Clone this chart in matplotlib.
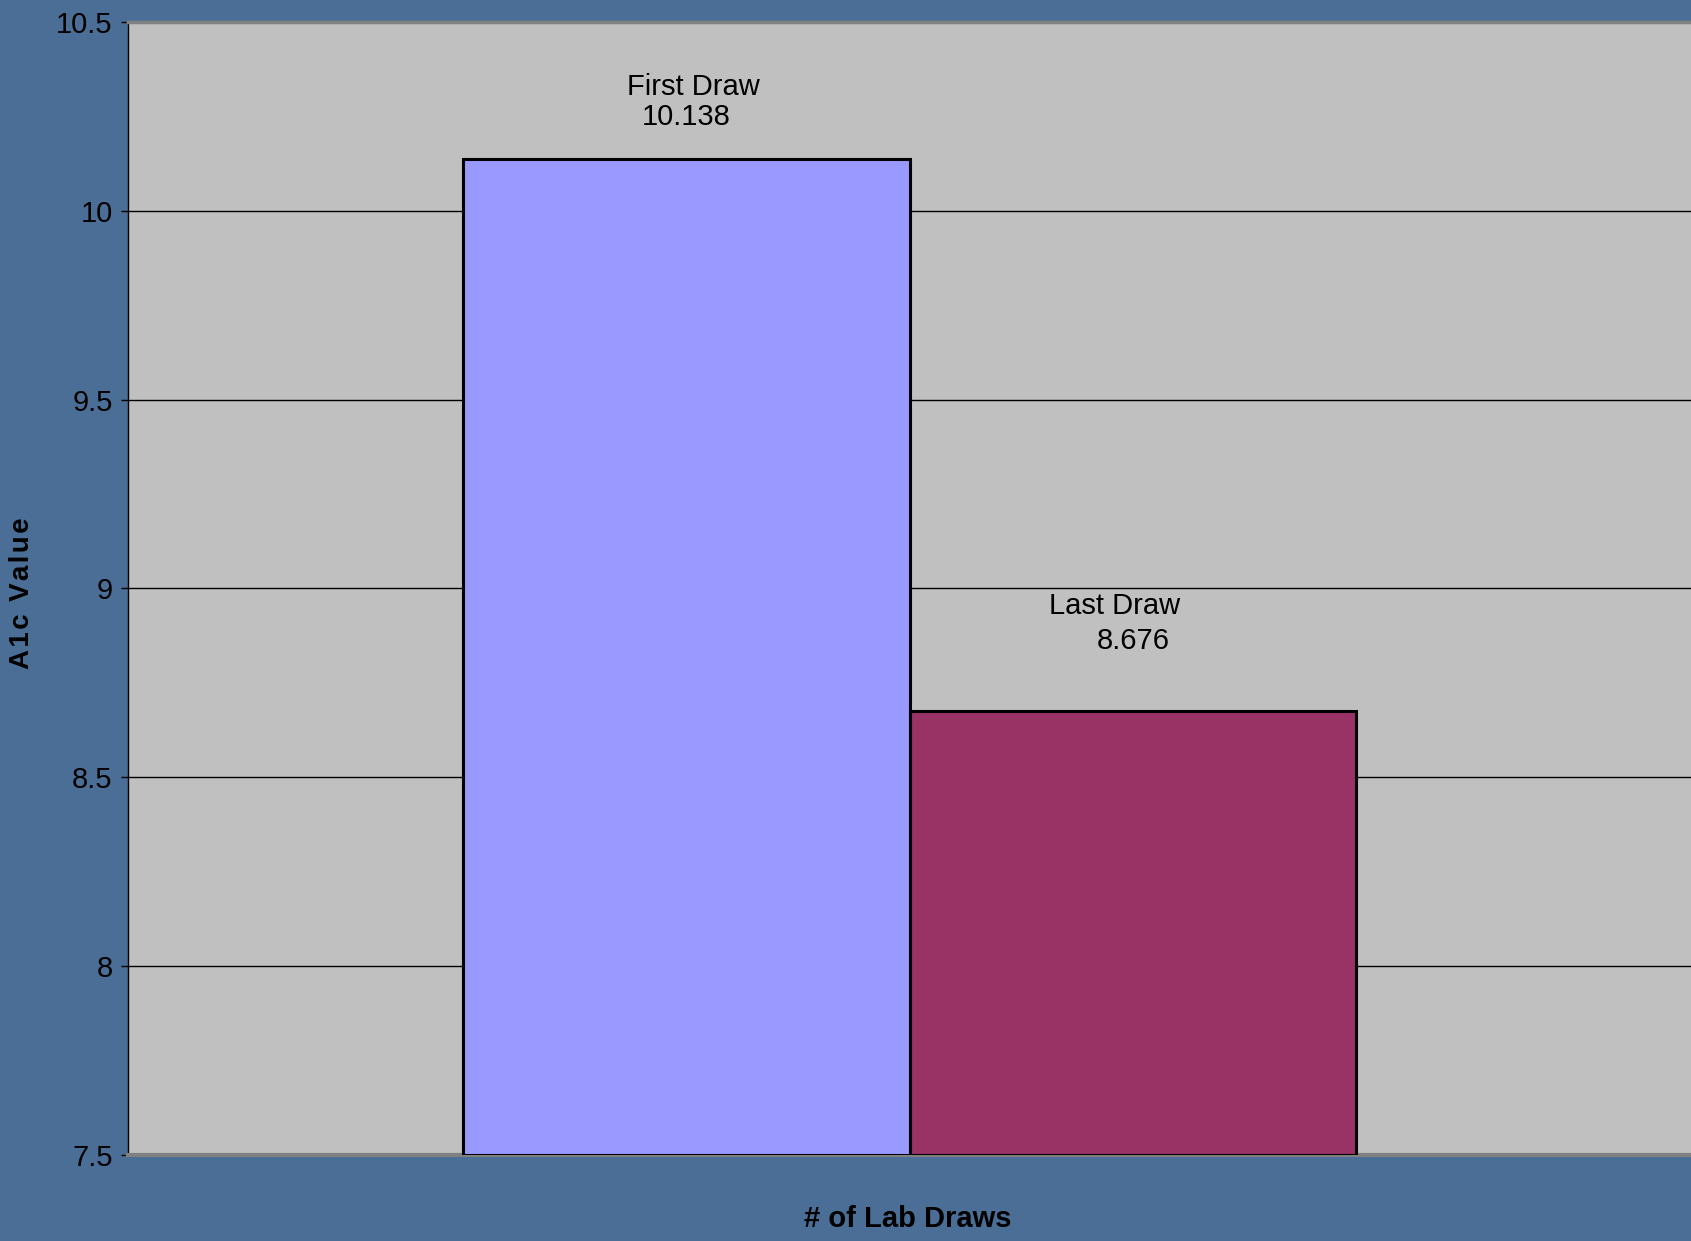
import matplotlib
matplotlib.use("Agg")
import matplotlib.pyplot as plt

# data
categories = ["First Draw", "Last Draw"]
a1c_values = [10.138, 8.676]
value_text = ["10.138", "8.676"]
y_ticks = [7.5, 8, 8.5, 9, 9.5, 10, 10.5]
y_tick_labels = ["7.5", "8", "8.5", "9", "9.5", "10", "10.5"]

bar_colors = ["#9999ff", "#993366"]
bg_color = "#4a6e95"

plt.rcParams['font.family'] = ['Liberation Sans', 'DejaVu Sans']

fig = plt.figure(figsize=(16.91, 12.41), dpi=100)
fig.patch.set_facecolor(bg_color)
ax = fig.add_axes([0.0757, 0.0693, 0.9243, 0.9130])
ax.set_facecolor("#c0c0c0")

x = list(range(len(categories)))
ax.bar(x, [v - 7.5 for v in a1c_values], bottom=7.5, width=1.0,
       color=bar_colors, edgecolor="black", linewidth=2.2, zorder=3)

ax.set_ylim(7.5, 10.5)
ax.set_xlim(-1.25, 2.25)
ax.set_yticks(y_ticks)
ax.set_yticklabels(y_tick_labels, fontsize=21)
ax.set_xticks([])
ax.yaxis.grid(True, color="black", linewidth=1.0, zorder=0)
ax.set_axisbelow(True)
ax.tick_params(axis='y', direction='out', length=5, width=1, pad=6,
               colors="black")

ax.spines['right'].set_visible(False)
ax.spines['left'].set_color("black")
ax.spines['left'].set_linewidth(1.0)
ax.spines['top'].set_color("#808080")
ax.spines['top'].set_linewidth(2.5)
ax.spines['bottom'].set_color("#808080")
ax.spines['bottom'].set_linewidth(3)

# data labels: category name above the value
name_dx = [0.015, -0.04]
name_dy = [0.19, 0.278]
val_dx = [0.0, 0.0]
val_dy = [0.11, 0.185]
for i, (cat, val, txt) in enumerate(zip(categories, a1c_values, value_text)):
    ax.text(x[i] + name_dx[i], val + name_dy[i], cat, ha='center',
            va='center', fontsize=21, zorder=4)
    ax.text(x[i] + val_dx[i], val + val_dy[i], txt, ha='center',
            va='center', fontsize=21, zorder=4)

# y label drawn with a bit of letter spacing, like the original
ylab = fig.text(0.013, 0.522, "A\u200a1\u200ac\u200a \u200aV\u200aa\u200al\u200au\u200ae",
                rotation=90, ha='center', va='center',
                fontsize=20, fontweight='bold')
fig.text(0.537, 0.0177, "# of Lab Draws", ha='center', va='center',
         fontsize=21, fontweight='bold')

fig.savefig("out.png", dpi=100, facecolor=bg_color)
